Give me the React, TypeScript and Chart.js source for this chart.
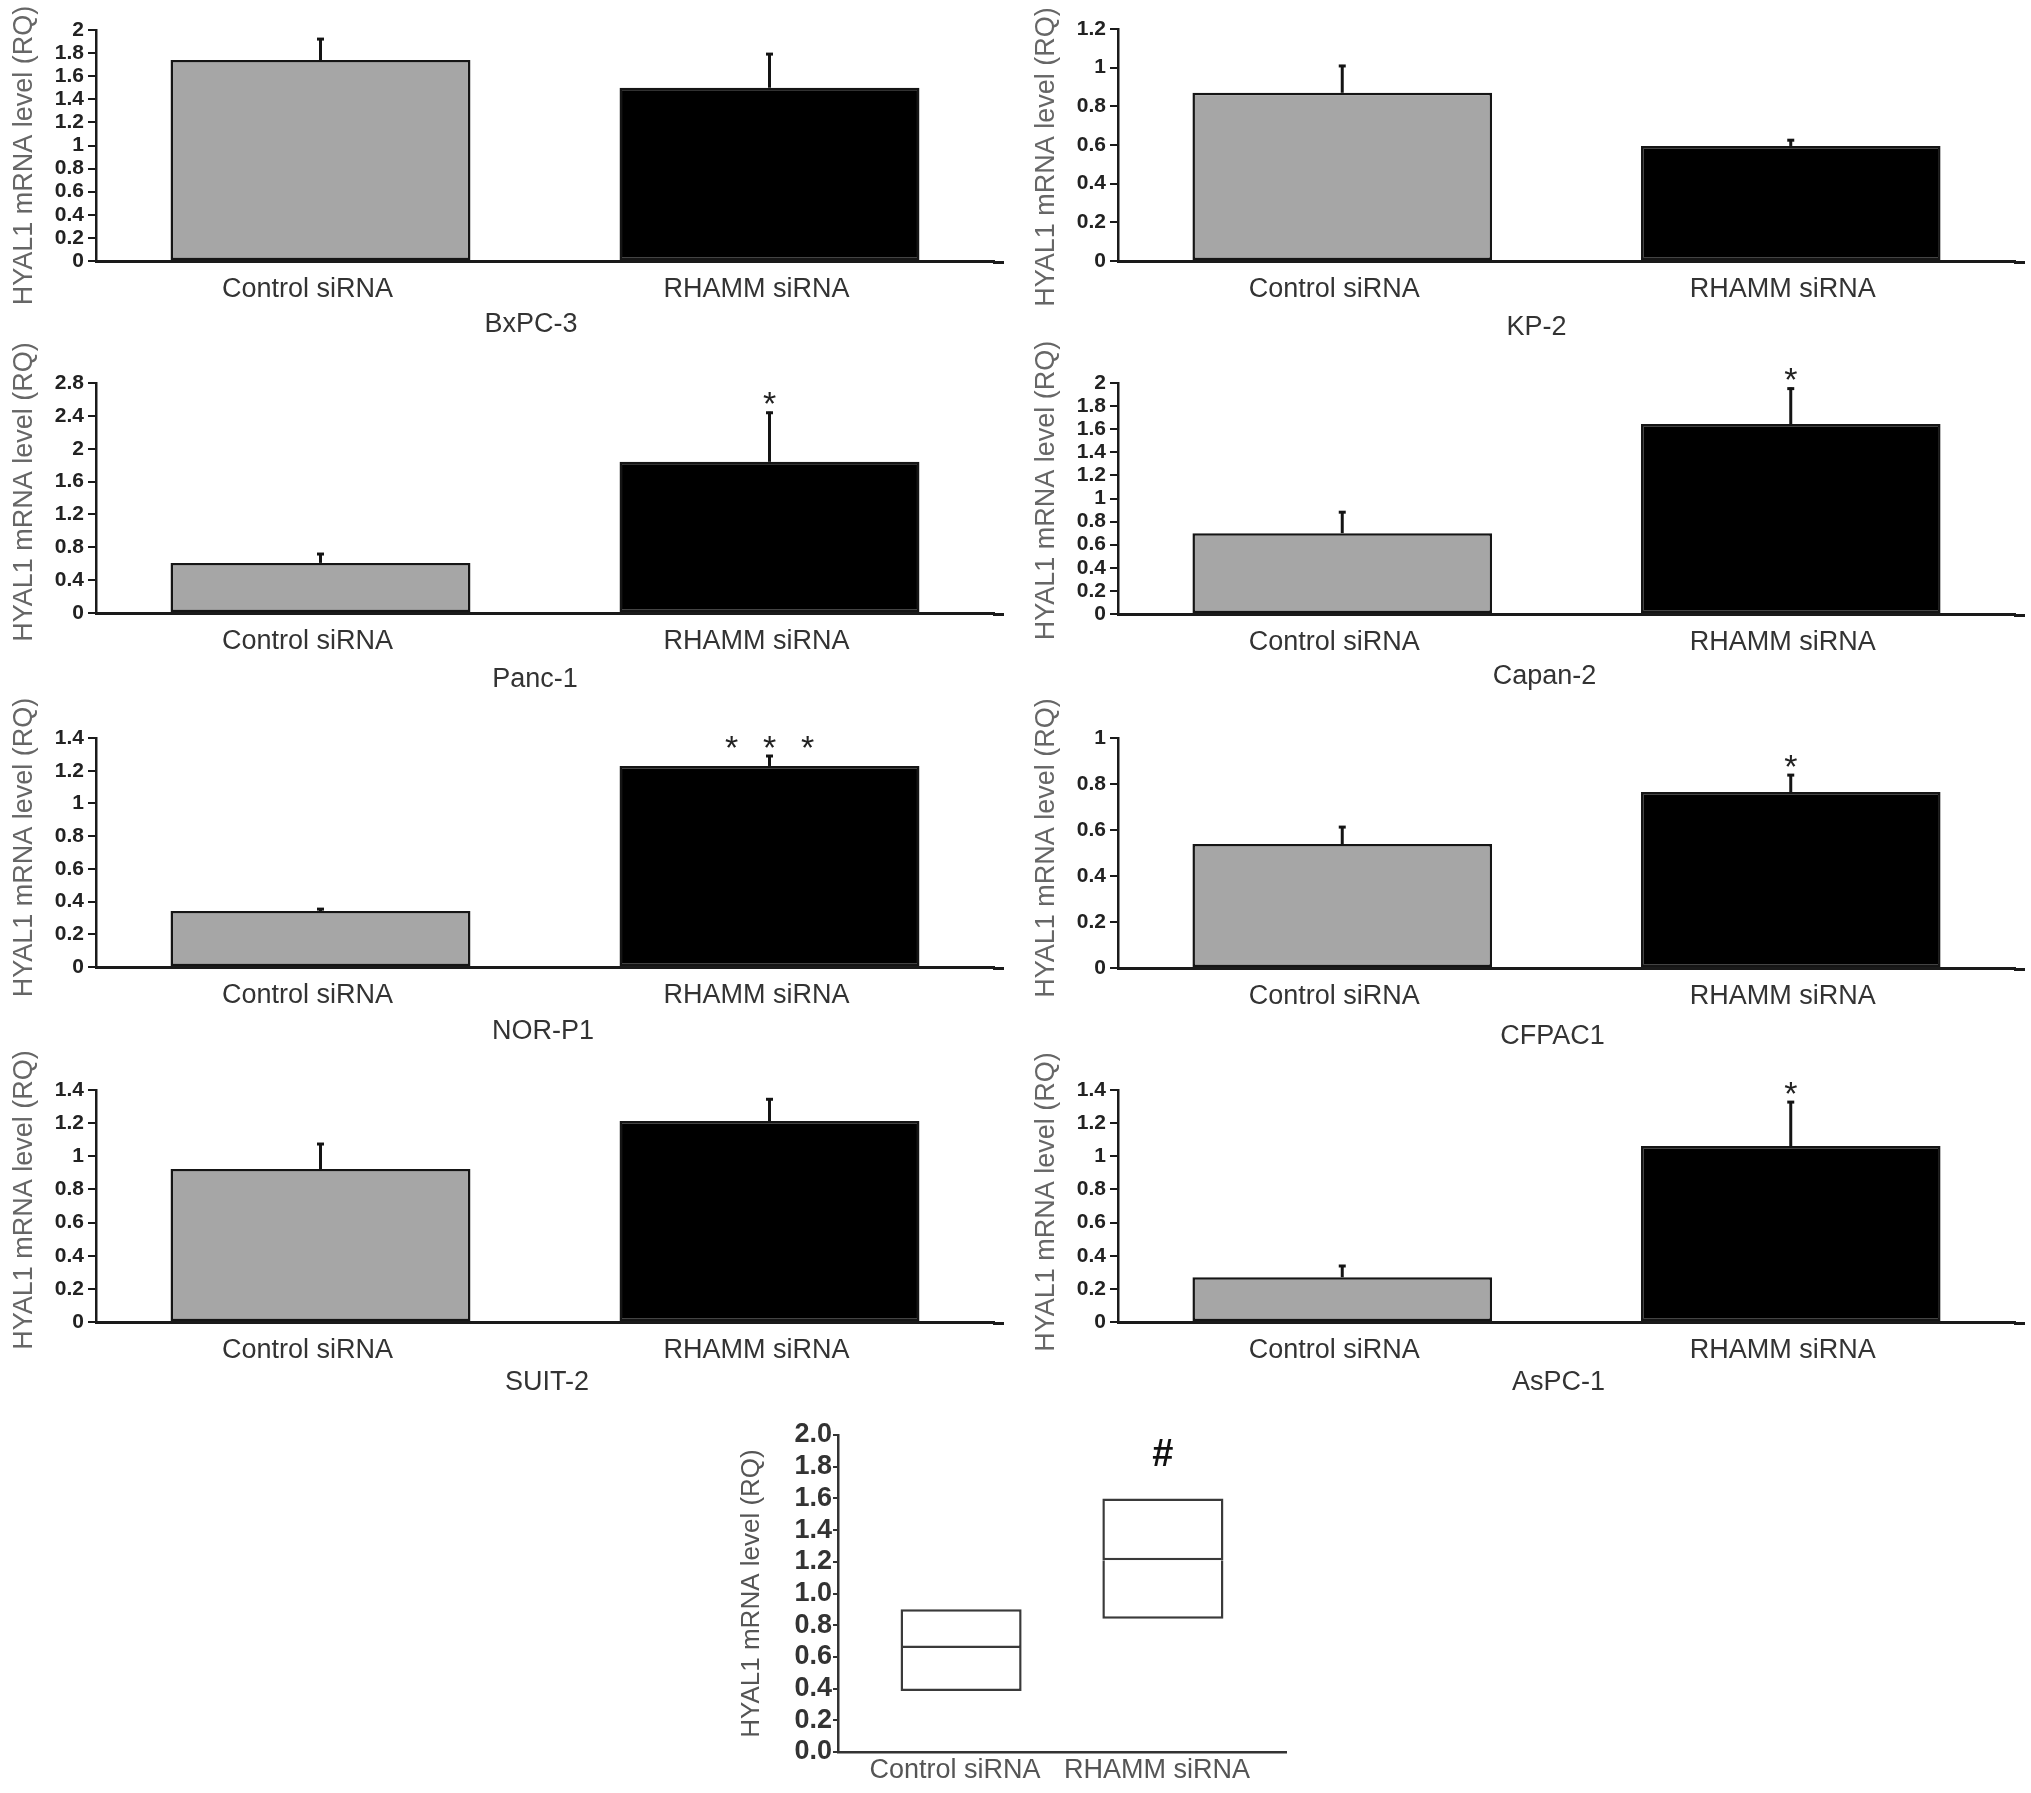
import React, { useEffect, useRef } from "react";
import { Chart, registerables } from "chart.js";

Chart.register(...registerables);

// ---------- data ----------
const categories = ["Control siRNA", "RHAMM siRNA"];
const yTitle = "HYAL1 mRNA level (RQ)";

const bxpc3Values = [1.74, 1.5];
const bxpc3Errors = [1.93, 1.8];
const bxpc3Marks = ["", ""];
const bxpc3Ticks = [0, 0.2, 0.4, 0.6, 0.8, 1, 1.2, 1.4, 1.6, 1.8, 2];

const kp2Values = [0.87, 0.595];
const kp2Errors = [1.014, 0.63];
const kp2Marks = ["", ""];
const kp2Ticks = [0, 0.2, 0.4, 0.6, 0.8, 1, 1.2];

const panc1Values = [0.61, 1.84];
const panc1Errors = [0.73, 2.45];
const panc1Marks = ["", "*"];
const panc1Ticks = [0, 0.4, 0.8, 1.2, 1.6, 2, 2.4, 2.8];

const capan2Values = [0.7, 1.645];
const capan2Errors = [0.89, 1.96];
const capan2Marks = ["", "*"];
const capan2Ticks = [0, 0.2, 0.4, 0.6, 0.8, 1, 1.2, 1.4, 1.6, 1.8, 2];

const norp1Values = [0.342, 1.229];
const norp1Errors = [0.36, 1.296];
const norp1Marks = ["", "* * *"];
const norp1Ticks = [0, 0.2, 0.4, 0.6, 0.8, 1, 1.2, 1.4];

const cfpac1Values = [0.539, 0.765];
const cfpac1Errors = [0.617, 0.843];
const cfpac1Marks = ["", "*"];
const cfpac1Ticks = [0, 0.2, 0.4, 0.6, 0.8, 1];

const suit2Values = [0.923, 1.213];
const suit2Errors = [1.08, 1.35];
const suit2Marks = ["", ""];
const suit2Ticks = [0, 0.2, 0.4, 0.6, 0.8, 1, 1.2, 1.4];

const aspc1Values = [0.27, 1.062];
const aspc1Errors = [0.344, 1.333];
const aspc1Marks = ["", "*"];
const aspc1Ticks = [0, 0.2, 0.4, 0.6, 0.8, 1, 1.2, 1.4];

const summaryLow = [0.385, 0.84];
const summaryMedian = [0.656, 1.21];
const summaryHigh = [0.9, 1.6];
const summaryMarks = ["", "#"];
const summaryTicks = [0, 0.2, 0.4, 0.6, 0.8, 1, 1.2, 1.4, 1.6, 1.8, 2];

// ---------- styling / layout ----------
const FONT = "'Liberation Sans', Arial, Helvetica, sans-serif";
const barFills = ["#a6a6a6", "#000000"];
const Y_AXIS_W = 90;
const X_AXIS_H = 90;
const PAD_TOP = 60;
const PAD_RIGHT = 24;

type Area = { left: number; right: number; top: number; bottom: number };

type Layout = {
  area: Area;
  titleDy: number;
  captionDx: number;
  captionDy: number;
  labelDx: number;
};

type BarPanel = {
  name: string;
  values: number[];
  errors: number[];
  marks: string[];
  ticks: number[];
  layout: Layout;
};

const L_LEFT = 96;
const L_RIGHT = 994;
const R_LEFT = 1118;
const R_RIGHT = 2015;

const barPanels: BarPanel[] = [
  { name: "BxPC-3", values: bxpc3Values, errors: bxpc3Errors, marks: bxpc3Marks, ticks: bxpc3Ticks,
    layout: { area: { left: L_LEFT, right: L_RIGHT, top: 30, bottom: 261 }, titleDy: 10, captionDx: -14, captionDy: 64, labelDx: -13 } },
  { name: "KP-2", values: kp2Values, errors: kp2Errors, marks: kp2Marks, ticks: kp2Ticks,
    layout: { area: { left: R_LEFT, right: R_RIGHT, top: 29, bottom: 261 }, titleDy: 12, captionDx: -30, captionDy: 67, labelDx: -8 } },
  { name: "Panc-1", values: panc1Values, errors: panc1Errors, marks: panc1Marks, ticks: panc1Ticks,
    layout: { area: { left: L_LEFT, right: L_RIGHT, top: 383, bottom: 613 }, titleDy: -6, captionDx: -10, captionDy: 67, labelDx: -13 } },
  { name: "Capan-2", values: capan2Values, errors: capan2Errors, marks: capan2Marks, ticks: capan2Ticks,
    layout: { area: { left: R_LEFT, right: R_RIGHT, top: 383, bottom: 614 }, titleDy: -8, captionDx: -22, captionDy: 63, labelDx: -8 } },
  { name: "NOR-P1", values: norp1Values, errors: norp1Errors, marks: norp1Marks, ticks: norp1Ticks,
    layout: { area: { left: L_LEFT, right: L_RIGHT, top: 738, bottom: 967 }, titleDy: -5, captionDx: -2, captionDy: 65, labelDx: -13 } },
  { name: "CFPAC1", values: cfpac1Values, errors: cfpac1Errors, marks: cfpac1Marks, ticks: cfpac1Ticks,
    layout: { area: { left: R_LEFT, right: R_RIGHT, top: 738, bottom: 968 }, titleDy: -5, captionDx: -14, captionDy: 69, labelDx: -8 } },
  { name: "SUIT-2", values: suit2Values, errors: suit2Errors, marks: suit2Marks, ticks: suit2Ticks,
    layout: { area: { left: L_LEFT, right: L_RIGHT, top: 1090, bottom: 1322 }, titleDy: -6, captionDx: 2, captionDy: 61, labelDx: -13 } },
  { name: "AsPC-1", values: aspc1Values, errors: aspc1Errors, marks: aspc1Marks, ticks: aspc1Ticks,
    layout: { area: { left: R_LEFT, right: R_RIGHT, top: 1090, bottom: 1322 }, titleDy: -4, captionDx: -8, captionDy: 61, labelDx: -8 } },
];

const fmtShort = (v: number) => String(Math.round(v * 10) / 10);
const fmtFixed = (v: number) => (Math.round(v * 10) / 10).toFixed(1);

function makePanelPlugin(p: BarPanel) {
  const { errors, marks, name, layout } = p;
  return {
    id: "panelDecorations",
    afterDatasetsDraw(chart: any) {
      const { ctx } = chart;
      const yScale = chart.scales.y;
      const meta = chart.getDatasetMeta(0);
      ctx.save();
      meta.data.forEach((el: any, i: number) => {
        const x = el.x;
        const top = el.y;
        const ye = yScale.getPixelForValue(errors[i]);
        ctx.strokeStyle = "#141414";
        ctx.lineWidth = 3;
        ctx.lineCap = "butt";
        ctx.beginPath();
        ctx.moveTo(x, top);
        ctx.lineTo(x, ye);
        ctx.stroke();
        ctx.beginPath();
        ctx.moveTo(x - 3.5, ye + 1);
        ctx.lineTo(x + 3.5, ye + 1);
        ctx.stroke();
        const mark = marks[i];
        if (mark) {
          const tokens = mark.split(" ");
          const gap = 38;
          const size = 34;
          ctx.fillStyle = "#222";
          ctx.font = `${size}px ${FONT}`;
          ctx.textAlign = "center";
          ctx.textBaseline = "alphabetic";
          const centerY = ye - 16;
          tokens.forEach((t, k) => {
            const tx = x + (k - (tokens.length - 1) / 2) * gap;
            ctx.fillText(t, tx, centerY + 0.575 * size);
          });
        }
      });
      ctx.restore();
    },
    afterDraw(chart: any) {
      const { ctx, chartArea } = chart;
      ctx.save();
      // slight extension of the baseline past the last category
      ctx.strokeStyle = "#1a1a1a";
      ctx.lineWidth = 3;
      ctx.beginPath();
      ctx.moveTo(chartArea.right - 1, chartArea.bottom + 1.5);
      ctx.lineTo(chartArea.right + 10, chartArea.bottom + 1.5);
      ctx.stroke();
      // rotated y title
      ctx.fillStyle = "#666";
      ctx.font = `27px ${FONT}`;
      ctx.textAlign = "center";
      ctx.textBaseline = "middle";
      ctx.translate(chartArea.left - 71, (chartArea.top + chartArea.bottom) / 2 + layout.titleDy);
      ctx.rotate(-Math.PI / 2);
      ctx.fillText(yTitle, 0, 0);
      ctx.restore();
      // cell line caption
      ctx.save();
      ctx.fillStyle = "#333";
      ctx.font = `27px ${FONT}`;
      ctx.textAlign = "center";
      ctx.textBaseline = "middle";
      ctx.fillText(name, (chartArea.left + chartArea.right) / 2 + layout.captionDx, chartArea.bottom + layout.captionDy);
      ctx.restore();
    },
  };
}

function barCanvasBox(a: Area) {
  return {
    left: a.left - Y_AXIS_W,
    top: a.top - PAD_TOP,
    width: Y_AXIS_W + (a.right - a.left) + PAD_RIGHT,
    height: PAD_TOP + (a.bottom - a.top) + X_AXIS_H,
  };
}

function barConfig(p: BarPanel): any {
  const ticks = p.ticks;
  return {
    type: "bar",
    data: {
      labels: categories,
      datasets: [
        {
          data: p.values,
          backgroundColor: barFills,
          borderColor: "#151515",
          borderWidth: 2.5,
          borderSkipped: false,
          barPercentage: 0.668,
          categoryPercentage: 1,
        },
      ],
    },
    options: {
      animation: false,
      responsive: false,
      devicePixelRatio: 1,
      layout: { padding: { top: PAD_TOP, right: PAD_RIGHT, left: 0, bottom: 0 } },
      plugins: { legend: { display: false }, tooltip: { enabled: false } },
      scales: {
        x: {
          type: "category",
          offset: true,
          grid: { display: false, drawTicks: false },
          border: { display: true, color: "#1a1a1a", width: 3 },
          ticks: {
            color: "#333",
            font: { family: FONT, size: 27 },
            padding: 12,
            autoSkip: false,
            maxRotation: 0,
            labelOffset: p.layout.labelDx,
          },
          afterFit: (axis: any) => {
            axis.height = X_AXIS_H;
          },
        },
        y: {
          type: "linear",
          min: ticks[0],
          max: ticks[ticks.length - 1],
          grid: {
            display: true,
            drawOnChartArea: false,
            drawTicks: true,
            tickLength: 8,
            color: "#1a1a1a",
            lineWidth: 2,
          },
          border: { display: true, color: "#1a1a1a", width: 2.5 },
          ticks: {
            autoSkip: false,
            color: "#222",
            font: { family: FONT, size: 21, weight: "bold" },
            padding: 4,
            callback: (v: any) => fmtShort(Number(v)),
          },
          afterBuildTicks: (axis: any) => {
            axis.ticks = ticks.map((value) => ({ value }));
          },
          afterFit: (axis: any) => {
            axis.width = Y_AXIS_W;
          },
        },
      },
    },
    plugins: [makePanelPlugin(p)],
  };
}

// summary (box) panel
const SUM_AREA: Area = { left: 838, right: 1286, top: 1435, bottom: 1752 };
const SUM_X_MIN = -0.61;
const SUM_X_MAX = 1.61;
const SUM_Y_W = 108;
const SUM_X_H = 41;
const SUM_PAD_TOP = 20;
const SUM_PAD_RIGHT = 10;

function summaryBox() {
  const a = SUM_AREA;
  return {
    left: a.left - SUM_Y_W,
    top: a.top - SUM_PAD_TOP,
    width: SUM_Y_W + (a.right - a.left) + SUM_PAD_RIGHT,
    height: SUM_PAD_TOP + (a.bottom - a.top) + SUM_X_H,
  };
}

function summaryConfig(): any {
  const lower = summaryLow.map((v, i) => ({ x: i, y: [v, summaryMedian[i]] }));
  const upper = summaryMedian.map((v, i) => ({ x: i, y: [v, summaryHigh[i]] }));
  const common = {
    backgroundColor: "#ffffff",
    borderColor: "#3a3a3a",
    borderWidth: 2.5,
    grouped: false,
    barPercentage: 0.6,
    categoryPercentage: 1,
  };
  const markPlugin = {
    id: "summaryMarks",
    afterDatasetsDraw(chart: any) {
      const { ctx } = chart;
      const meta = chart.getDatasetMeta(1);
      ctx.save();
      meta.data.forEach((el: any, i: number) => {
        const m = summaryMarks[i];
        if (!m) return;
        const size = 38;
        ctx.fillStyle = "#111";
        ctx.font = `bold ${size}px ${FONT}`;
        ctx.textAlign = "center";
        ctx.textBaseline = "alphabetic";
        const cy = el.y - 46;
        ctx.fillText(m, el.x, cy + 0.35 * size);
      });
      ctx.restore();
    },
  };
  return {
    type: "bar",
    data: {
      datasets: [
        { ...common, data: lower, borderSkipped: "top" },
        { ...common, data: upper, borderSkipped: false },
      ],
    },
    options: {
      animation: false,
      responsive: false,
      devicePixelRatio: 1,
      layout: { padding: { top: SUM_PAD_TOP, right: SUM_PAD_RIGHT, left: 0, bottom: 0 } },
      plugins: { legend: { display: false }, tooltip: { enabled: false } },
      scales: {
        x: {
          type: "linear",
          min: SUM_X_MIN,
          max: SUM_X_MAX,
          offset: false,
          grid: { display: false, drawTicks: false },
          border: { display: true, color: "#333", width: 2.5 },
          ticks: {
            color: "#555",
            font: { family: FONT, size: 27 },
            padding: 2,
            autoSkip: false,
            maxRotation: 0,
            labelOffset: -6,
            callback: (v: any) => categories[Math.round(Number(v))] ?? "",
          },
          afterBuildTicks: (axis: any) => {
            axis.ticks = categories.map((_, i) => ({ value: i }));
          },
          afterFit: (axis: any) => {
            axis.height = SUM_X_H;
          },
        },
        y: {
          type: "linear",
          min: summaryTicks[0],
          max: summaryTicks[summaryTicks.length - 1],
          grid: {
            display: true,
            drawOnChartArea: false,
            drawTicks: true,
            tickLength: 5,
            color: "#333",
            lineWidth: 2,
          },
          border: { display: true, color: "#333", width: 2.5 },
          ticks: {
            autoSkip: false,
            color: "#333",
            font: { family: FONT, size: 27, weight: "bold" },
            padding: 1,
            callback: (v: any) => fmtFixed(Number(v)),
          },
          title: {
            display: true,
            text: yTitle,
            color: "#555",
            font: { family: FONT, size: 26 },
            padding: { top: 6, bottom: 0 },
          },
          afterBuildTicks: (axis: any) => {
            axis.ticks = summaryTicks.map((value) => ({ value }));
          },
          afterFit: (axis: any) => {
            axis.width = SUM_Y_W;
          },
        },
      },
    },
    plugins: [markPlugin],
  };
}

function ChartCanvas({ box, build }: { box: { left: number; top: number; width: number; height: number }; build: () => any }) {
  const ref = useRef<HTMLCanvasElement | null>(null);
  useEffect(() => {
    if (!ref.current) return;
    const chart = new Chart(ref.current, build());
    return () => chart.destroy();
  }, []);
  return (
    <canvas
      ref={ref}
      width={box.width}
      height={box.height}
      style={{
        position: "absolute",
        left: box.left,
        top: box.top,
        width: box.width,
        height: box.height,
      }}
    />
  );
}

export default function App() {
  return (
    <div
      style={{
        position: "absolute",
        left: 0,
        top: 0,
        width: 2031,
        height: 1793,
        background: "#ffffff",
        overflow: "hidden",
      }}
    >
      {barPanels.map((p) => (
        <ChartCanvas key={p.name} box={barCanvasBox(p.layout.area)} build={() => barConfig(p)} />
      ))}
      <ChartCanvas box={summaryBox()} build={summaryConfig} />
    </div>
  );
}
